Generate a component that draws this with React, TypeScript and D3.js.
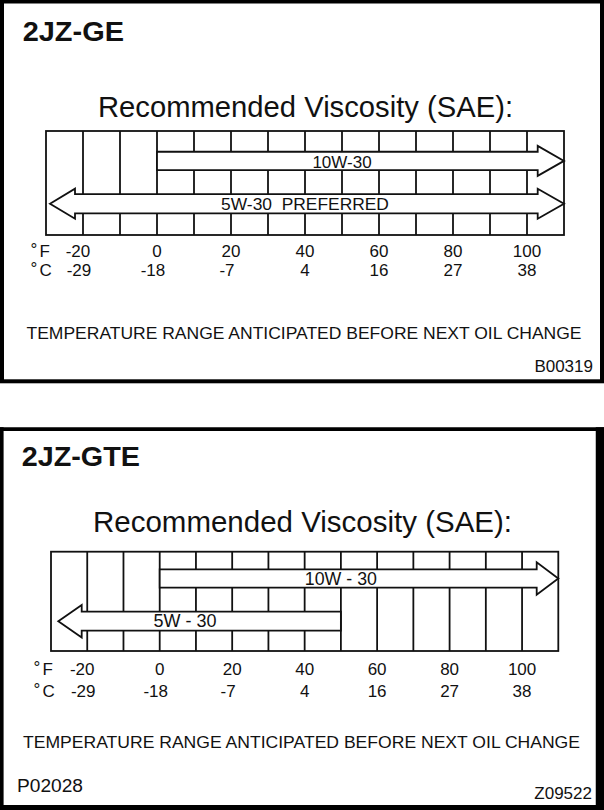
import React from "react";
import * as d3 from "d3";

// Temperature axis (°F with the matching °C row)
const DOMAIN_F = [-30, 110];
const TEMP_F = [-20, 0, 20, 40, 60, 80, 100];
const TEMP_C = [-29, -18, -7, 4, 16, 27, 38];
const GRID_F = [-20, -10, 0, 10, 20, 30, 40, 50, 60, 70, 80, 90, 100];

// 2JZ-GE oil grades: usable temperature span, open-ended sides drawn as arrowheads
const GE_GRADES = ["10W-30", "5W-30  PREFERRED"];
const GE_LOW_F = [0, -30];
const GE_HIGH_F = [110, 110];
const GE_OPEN_LOW = [false, true];
const GE_OPEN_HIGH = [true, true];
const GE_LABEL_F = [50, 40];

// 2JZ-GTE oil grades
const GTE_GRADES = ["10W - 30", "5W - 30"];
const GTE_LOW_F = [0, -30];
const GTE_HIGH_F = [110, 50];
const GTE_OPEN_LOW = [false, true];
const GTE_OPEN_HIGH = [true, false];
const GTE_LABEL_F = [50, 7];

const FONT = "'Liberation Sans', Arial, Helvetica, sans-serif";
const INK = "#111";

type Grade = {
  name: string;
  low: number;
  high: number;
  openLow: boolean;
  openHigh: boolean;
  labelAt: number;
};

const zipGrades = (
  names: string[],
  low: number[],
  high: number[],
  openLow: boolean[],
  openHigh: boolean[],
  labelAt: number[]
): Grade[] =>
  names.map((name, i) => ({
    name,
    low: low[i],
    high: high[i],
    openLow: openLow[i],
    openHigh: openHigh[i],
    labelAt: labelAt[i],
  }));

type Layout = {
  box: { x0: number; x1: number; y0: number; y1: number };
  rows: { yc: number; band: number; head: number; lenL: number; lenR: number; labelY: number; font: number }[];
  tipInset: number;
  title: { x: number; y: number; len: number };
  heading: { x: number; y: number; size: number; len: number };
  tickF: number;
  tickC: number;
  unitX: [number, number];
  footer: { x: number; y: number; size: number; len: number };
};

function arrowPath(
  x0: number,
  x1: number,
  yc: number,
  h: number,
  H: number,
  lenL: number,
  lenR: number,
  openLow: boolean,
  openHigh: boolean
) {
  const pts: [number, number][] = [];
  if (openLow) {
    pts.push([x0, yc], [x0 + lenL, yc - H], [x0 + lenL, yc - h]);
  } else {
    pts.push([x0, yc - h]);
  }
  if (openHigh) {
    pts.push([x1 - lenR, yc - h], [x1 - lenR, yc - H], [x1, yc], [x1 - lenR, yc + H], [x1 - lenR, yc + h]);
  } else {
    pts.push([x1, yc - h], [x1, yc + h]);
  }
  if (openLow) {
    pts.push([x0 + lenL, yc + h], [x0 + lenL, yc + H]);
  } else {
    pts.push([x0, yc + h]);
  }
  return d3.line()(pts) + "Z";
}

function Panel({ engine, grades, L }: { engine: string; grades: Grade[]; L: Layout }) {
  const x = d3.scaleLinear().domain(DOMAIN_F).range([L.box.x0, L.box.x1]);
  const { x0, x1, y0, y1 } = L.box;
  return (
    <g>
      <text
        x={L.title.x}
        y={L.title.y}
        fontFamily={FONT}
        fontWeight={700}
        fontSize={27}
        textLength={L.title.len}
        lengthAdjust="spacingAndGlyphs"
        fill={INK}
      >
        {engine}
      </text>
      <text
        x={L.heading.x}
        y={L.heading.y}
        fontFamily={FONT}
        fontSize={L.heading.size}
        textAnchor="middle"
        textLength={L.heading.len}
        lengthAdjust="spacingAndGlyphs"
        fill={INK}
      >
        Recommended Viscosity (SAE):
      </text>

      {/* grid columns every 10 °F */}
      {GRID_F.map((t) => (
        <line key={t} x1={x(t)} x2={x(t)} y1={y0} y2={y1} stroke={INK} strokeWidth={1.8} />
      ))}
      <rect x={x0} y={y0} width={x1 - x0} height={y1 - y0} fill="none" stroke={INK} strokeWidth={1.8} />

      {/* grade ranges */}
      {grades.map((g, i) => {
        const r = L.rows[i];
        const left = g.openLow ? x(g.low) + L.tipInset : x(g.low);
        const right = x(g.high);
        return (
          <g key={g.name}>
            <path
              d={arrowPath(left, right, r.yc, r.band / 2, r.head / 2, r.lenL, r.lenR, g.openLow, g.openHigh)}
              fill="#fff"
              stroke={INK}
              strokeWidth={1.8}
              strokeLinejoin="miter"
            />
            <text
              x={x(g.labelAt)}
              y={r.labelY}
              textAnchor="middle"
              fontFamily={FONT}
              fontSize={r.font}
              fill={INK}
              style={{ whiteSpace: "pre" }}
            >
              {g.name}
            </text>
          </g>
        );
      })}

      {/* axis labels */}
      <g fontFamily={FONT} fontSize={17} fill={INK}>
        <text x={L.unitX[0]} y={L.tickF - 2}>°</text>
        <text x={L.unitX[1]} y={L.tickF}>F</text>
        <text x={L.unitX[0]} y={L.tickC - 2}>°</text>
        <text x={L.unitX[1]} y={L.tickC}>C</text>
        {TEMP_F.map((t) => (
          <text key={"f" + t} x={x(t)} dx={t < 0 ? -5 : 0} y={L.tickF} textAnchor="middle">
            {t}
          </text>
        ))}
        {TEMP_C.map((c, i) => (
          <text key={"c" + c} x={x(TEMP_F[i])} dx={c < 0 ? -4 : 0} y={L.tickC} textAnchor="middle">
            {c}
          </text>
        ))}
      </g>

      <text
        x={L.footer.x}
        y={L.footer.y}
        textAnchor="middle"
        fontFamily={FONT}
        fontSize={L.footer.size}
        textLength={L.footer.len}
        lengthAdjust="spacingAndGlyphs"
        fill={INK}
      >
        TEMPERATURE RANGE ANTICIPATED BEFORE NEXT OIL CHANGE
      </text>
    </g>
  );
}

const GE_LAYOUT: Layout = {
  box: { x0: 46, x1: 564, y0: 131, y1: 235 },
  rows: [
    { yc: 160.9, band: 18.3, head: 30, lenL: 25, lenR: 26.3, labelY: 168.3, font: 17 },
    { yc: 203.7, band: 19.3, head: 30, lenL: 25, lenR: 26.3, labelY: 210, font: 17.4 },
  ],
  tipInset: 4,
  title: { x: 22.7, y: 40.7, len: 101.3 },
  heading: { x: 305.5, y: 117, size: 29, len: 415 },
  tickF: 256.5,
  tickC: 275.5,
  unitX: [30.5, 39.5],
  footer: { x: 304, y: 339, size: 17.3, len: 555 },
};

const GTE_LAYOUT: Layout = {
  box: { x0: 51, x1: 558.3, y0: 551.7, y1: 651 },
  rows: [
    { yc: 578.5, band: 18.4, head: 32.3, lenL: 23.4, lenR: 21.6, labelY: 585, font: 17.8 },
    { yc: 621.2, band: 19, head: 32.6, lenL: 23.4, lenR: 21.6, labelY: 627.3, font: 18 },
  ],
  tipInset: 7.3,
  title: { x: 21.7, y: 466, len: 118.3 },
  heading: { x: 302.5, y: 531.7, size: 29.4, len: 419 },
  tickF: 675,
  tickC: 696.7,
  unitX: [33.5, 42.5],
  footer: { x: 301.5, y: 748.3, size: 17.4, len: 557 },
};

export default function App() {
  const geGrades = zipGrades(GE_GRADES, GE_LOW_F, GE_HIGH_F, GE_OPEN_LOW, GE_OPEN_HIGH, GE_LABEL_F);
  const gteGrades = zipGrades(GTE_GRADES, GTE_LOW_F, GTE_HIGH_F, GTE_OPEN_LOW, GTE_OPEN_HIGH, GTE_LABEL_F);
  return (
    <svg
      width={604}
      height={810}
      viewBox="0 0 604 810"
      style={{ position: "absolute", left: 0, top: 0, background: "#fff" }}
    >
      <rect x={0} y={0} width={604} height={810} fill="#fff" />

      {/* upper card */}
      <rect x={2} y={1.5} width={600} height={379.8} fill="none" stroke="#000" strokeWidth={4} />
      <Panel engine="2JZ-GE" grades={geGrades} L={GE_LAYOUT} />
      <text x={593} y={371.7} textAnchor="end" fontFamily={FONT} fontSize={17} fill={INK}>
        B00319
      </text>

      {/* lower card */}
      <line x1={0} x2={604} y1={429.2} y2={429.2} stroke="#000" strokeWidth={3.8} />
      <line x1={1.8} x2={1.8} y1={427.3} y2={810} stroke="#000" strokeWidth={3.6} />
      <line x1={600} x2={600} y1={427.3} y2={810} stroke="#000" strokeWidth={8.5} />
      <line x1={0} x2={604} y1={807.5} y2={807.5} stroke="#000" strokeWidth={5} />
      <Panel engine="2JZ-GTE" grades={gteGrades} L={GTE_LAYOUT} />
      <text x={17} y={791.7} fontFamily={FONT} fontSize={18} textLength={66} lengthAdjust="spacingAndGlyphs" fill={INK}>
        P02028
      </text>
      <text x={592} y={799.3} textAnchor="end" fontFamily={FONT} fontSize={17} fill={INK}>
        Z09522
      </text>
    </svg>
  );
}
